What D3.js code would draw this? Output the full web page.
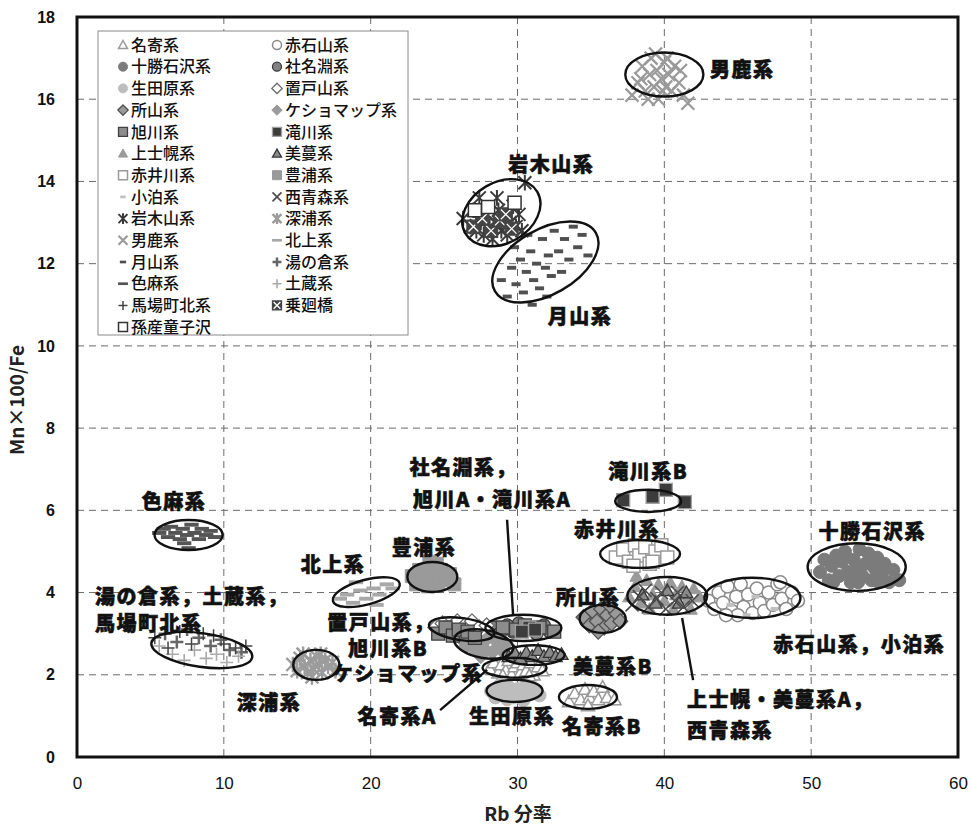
<!DOCTYPE html>
<html>
<head>
<meta charset="utf-8">
<script src="https://cdn.jsdelivr.net/npm/d3@7"></script>
<style>
  body { margin: 0; background: #fff; }
</style>
</head>
<body>
<div id="grafico"></div>
<script>
// ---- datos (Rb分率, Mn×100/Fe) ----
nombres = ['名寄系', '赤石山系', '十勝石沢系', '社名淵系', '生田原系', '置戸山系', '所山系',
  'ケショマップ系', '旭川系', '滝川系', '上士幌系', '美蔓系', '赤井川系', '豊浦系', '小泊系',
  '西青森系', '岩木山系', '深浦系', '男鹿系', '北上系', '月山系', '湯の倉系', '色麻系', '土蔵系',
  '馬場町北系', '乗廻橋', '孫産童子沢']

nayoro = [[33.5,1.35],[33.9,1.55],[34.3,1.4],[34.6,1.65],[34.9,1.45],[35.2,1.6],[35.5,1.4],[35.8,1.7],[36.1,1.45],[36.6,1.4],[34.8,1.25],
  [28.1,2.15],[28.4,2.3],[28.7,2.05],[28.9,2.25],[29.2,2.1],[29.4,2.35],[29.6,2.0],[29.8,2.2],[30.0,2.3],[30.2,2.05],[30.4,2.25],[30.6,2.1],[30.9,2.3],[31.1,2.0],[31.4,2.2],[31.7,2.1],[29.0,1.98],[30.8,1.98]]
akaishiyama = [[43.0,3.8],[43.4,3.6],[43.7,4.0],[44.0,3.75],[44.3,4.15],[44.6,3.55],[44.9,3.9],[45.2,4.2],[45.4,3.65],[45.7,3.95],[46.0,3.5],[46.3,4.1],[46.5,3.75],[46.8,3.55],[47.1,4.0],[47.4,3.7],[47.7,4.2],[48.0,3.85],[48.3,3.6],[48.7,4.0],[49.1,3.8],[45.0,3.45],[47.9,4.25],[44.2,3.45]]
tokachi = [[50.6,4.5],[50.9,4.8],[51.2,4.3],[51.4,4.65],[51.7,4.9],[51.9,4.4],[52.1,4.75],[52.3,5.0],[52.5,4.5],[52.7,4.25],[52.9,4.8],[53.1,4.6],[53.3,5.05],[53.5,4.4],[53.7,4.7],[53.9,4.95],[54.1,4.3],[54.3,4.6],[54.5,4.85],[54.8,4.45],[55.0,4.7],[55.3,4.25],[55.6,4.55],[56.0,4.3],[51.5,4.25],[52.8,4.35],[54.6,4.25],[53.2,4.25]]
shanabuchi = [[28.4,3.15],[28.8,3.0],[29.3,3.2],[29.7,3.05],[30.1,3.25],[31.3,3.0],[31.8,3.2],[32.2,3.05]]
ikutahara = [[28.2,1.6],[28.5,1.45],[28.8,1.75],[29.1,1.55],[29.4,1.7],[29.7,1.45],[30.0,1.65],[30.3,1.5],[30.6,1.75],[30.9,1.55],[31.2,1.65],[31.5,1.5],[29.3,1.4],[30.4,1.38]]
oketoyama = [[24.4,3.15],[24.9,3.25],[25.4,3.1],[25.9,3.3],[26.4,3.2],[26.9,3.3],[27.4,3.15],[27.9,3.2]]
tokoroyama = [[34.5,3.4],[34.9,3.2],[35.1,3.55],[35.4,3.3],[35.7,3.6],[35.9,3.15],[36.1,3.45],[36.4,3.25],[36.7,3.5],[37.0,3.3],[35.5,3.05],[36.3,3.68]]
keshomappu = [[26.1,2.9],[26.5,2.7],[26.8,2.95],[27.1,2.6],[27.4,2.85],[27.7,2.65],[28.0,2.9],[28.3,2.55],[28.6,2.8],[28.9,2.6],[29.2,2.75],[27.5,2.45]]
asahikawa = [[29.0,3.15],[29.9,3.1],[30.5,3.2],[31.5,3.15],[32.5,3.05],
  [24.6,3.0],[25.1,3.15],[25.6,2.95],[26.0,3.1],[26.6,3.05],[27.1,2.9]]
takikawa = [[37.2,6.25],[39.2,6.33],[40.1,6.5],[41.4,6.2],[30.8,3.15],[31.2,3.1],[30.3,3.05]]
kamishihoro = [[37.6,3.9],[38.0,4.15],[38.4,3.75],[38.8,4.3],[39.2,3.95],[39.6,4.2],[40.0,3.8],[40.4,4.25],[40.8,3.95],[41.2,4.15],[41.6,3.85],[42.0,4.1],[42.4,3.9],[39.0,3.6],[40.6,3.6],[41.8,3.6],[38.1,4.4]]
biman = [[38.5,3.95],[39.4,3.75],[40.2,4.05],[41.0,3.75],[41.5,4.0],
  [29.4,2.45],[29.8,2.55],[30.2,2.4],[30.6,2.55],[31.0,2.45],[31.4,2.6],[31.8,2.45],[32.2,2.55],[32.6,2.45],[33.0,2.5]]
akaigawa = [[36.7,4.85],[37.2,5.05],[37.6,4.75],[38.0,5.15],[38.3,4.9],[38.7,5.1],[39.0,4.7],[39.4,5.0],[39.8,5.15],[40.2,4.85],[37.9,4.65],[39.2,4.75]]
toyoura = [[22.8,4.4],[23.1,4.2],[23.3,4.55],[23.6,4.35],[23.9,4.15],[24.1,4.6],[24.3,4.4],[24.6,4.2],[24.8,4.55],[25.1,4.3],[25.4,4.45],[25.7,4.2],[24.0,4.75],[24.5,4.7]]
kodomari = [[44.5,3.7],[46.2,3.9],[47.5,3.6],[45.6,3.45]]
nishiaomori = [[37.8,3.7],[38.3,3.9],[38.9,3.65],[39.5,3.85],[40.1,3.6],[40.7,3.8],[41.3,3.65],[41.9,3.8],[39.8,4.0],[38.7,4.05],[40.9,4.0]]
iwakisan = [[26.3,13.1],[26.8,12.9],[27.0,13.3],[27.2,12.8],[27.5,13.0],[27.7,12.7],[27.9,13.2],[28.1,12.9],[28.3,12.6],[28.5,13.0],[28.7,13.3],[28.9,12.8],[29.1,13.1],[29.3,12.7],[29.5,13.0],[29.7,13.4],[29.9,12.9],[30.1,13.2],[30.3,12.8],[30.5,13.97],[27.4,13.6],[28.6,13.6]]
fukaura = [[14.7,2.25],[15.0,2.1],[15.2,2.4],[15.5,2.2],[15.7,2.05],[15.9,2.35],[16.1,2.15],[16.3,2.45],[16.5,2.25],[16.7,2.05],[16.9,2.35],[17.1,2.2],[17.4,2.3],[17.6,2.1],[15.4,2.5],[16.6,2.5],[16.0,1.95]]
oga = [[37.8,16.1],[38.2,16.4],[38.5,16.8],[38.7,16.2],[39.0,16.6],[39.1,17.0],[39.3,16.3],[39.5,16.7],[39.6,16.0],[39.8,16.5],[40.0,16.9],[40.1,16.3],[40.3,16.6],[40.5,16.2],[40.7,16.8],[41.0,16.4],[41.3,16.1],[41.6,15.9],[38.9,16.0],[39.4,17.1],[40.2,17.0],[38.4,16.5],[41.1,16.7],[39.9,16.2]]
kitakami = [[17.9,3.85],[18.4,3.95],[18.8,3.75],[19.3,4.05],[19.7,3.85],[20.2,4.1],[20.6,3.95],[21.1,4.2],[21.5,4.1],[19.0,4.25],[20.4,3.7]]
gassan = [[28.9,11.6],[29.3,11.2],[29.6,11.9],[29.9,11.5],[30.2,12.1],[30.4,11.3],[30.6,11.8],[30.9,12.3],[31.1,11.6],[31.3,12.0],[31.5,11.4],[31.7,12.6],[31.9,11.9],[32.1,12.2],[32.3,11.7],[32.5,12.8],[32.8,12.3],[33.0,11.8],[33.2,12.6],[33.5,12.1],[33.8,12.9],[34.1,12.4],[34.4,12.7],[34.8,12.2],[31.0,11.0],[32.0,11.2],[29.8,12.4],[30.7,12.7]]
yunokura = [[6.0,3.0],[6.8,2.8],[7.5,3.1],[8.3,2.9],[9.1,2.7],[9.8,2.85],[10.4,2.6],[11.2,2.55]]
shikama = [[5.6,5.45],[5.9,5.55],[6.2,5.35],[6.4,5.6],[6.7,5.45],[7.0,5.3],[7.2,5.55],[7.5,5.4],[7.8,5.65],[8.0,5.45],[8.3,5.3],[8.5,5.55],[8.8,5.4],[9.1,5.5],[9.4,5.35],[7.6,5.08],[7.3,5.2]]
dozou = [[6.5,2.5],[7.3,2.35],[8.0,2.6],[8.8,2.4],[9.5,2.5],[10.2,2.3],[5.6,2.7],[11.0,2.45]]
babacho = [[5.3,2.9],[6.2,2.65],[7.0,3.05],[7.8,2.75],[8.6,3.0],[9.3,2.95],[10.0,2.75],[10.8,2.65],[11.5,2.7]]
norimawashi = [[27.0,12.9],[28.2,12.8],[28.8,13.05],[29.6,12.85],[27.6,13.1],[29.2,13.2]]
magosan = [[27.1,13.3],[28.0,13.38],[29.8,13.48]]

datos = [nayoro, akaishiyama, tokachi, shanabuchi, ikutahara, oketoyama, tokoroyama,
  keshomappu, asahikawa, takikawa, kamishihoro, biman, akaigawa, toyoura, kodomari,
  nishiaomori, iwakisan, fukaura, oga, kitakami, gassan, yunokura, shikama, dozou,
  babacho, norimawashi, magosan]

// 楕円 [cx, cy, rx, ry, 角度]
elipses = [[40.0,16.6,2.66,0.535,0],[28.9,13.24,2.83,0.74,-30],[31.9,12.04,3.97,0.79,-30],
  [7.6,5.4,2.32,0.365,0],[8.5,2.6,3.47,0.41,8],[16.3,2.24,1.57,0.365,0],[19.7,4.01,2.35,0.30,-15],
  [24.2,4.38,1.7,0.365,0],[26.2,3.11,2.25,0.27,8],[27.7,2.75,2.04,0.34,10],[30.4,3.14,2.59,0.32,0],
  [31.1,2.48,2.11,0.24,0],[29.8,2.17,2.18,0.24,0],[29.8,1.61,1.91,0.27,0],[34.8,1.46,1.98,0.29,0],
  [35.8,3.36,1.57,0.34,0],[38.9,6.23,2.25,0.27,0],[38.35,4.94,2.72,0.34,0],[40.2,3.92,2.72,0.46,0],
  [46.0,3.87,3.27,0.49,0],[53.1,4.62,3.34,0.58,0]]

// 注記 [texto, x, y, anchor]
etiquetas = [['男鹿系',45.3,16.72,'middle'],['岩木山系',32.3,14.4,'middle'],['月山系',34.26,10.7,'middle'],
  ['色麻系',6.6,6.2,'middle'],['湯の倉系，土蔵系，',1.23,3.9,'start'],['馬場町北系',1.23,3.24,'start'],
  ['深浦系',13.08,1.31,'middle'],['北上系',17.44,4.67,'middle'],['豊浦系',23.64,5.09,'middle'],
  ['置戸山系，',20.7,3.26,'middle'],['旭川系B',21.19,2.63,'middle'],['ケショマップ系',22.55,2.02,'middle'],
  ['名寄系A',21.8,0.97,'middle'],['生田原系',29.63,0.97,'middle'],['名寄系B',35.76,0.73,'middle'],
  ['社名淵系，',26.3,7.03,'middle'],['旭川A・滝川系A',28.27,6.25,'middle'],['滝川系B',38.9,6.93,'middle'],
  ['赤井川系',36.78,5.52,'middle'],['所山系',34.8,3.87,'middle'],['美蔓系B',36.5,2.19,'middle'],
  ['十勝石沢系',54.16,5.47,'middle'],['赤石山系，小泊系',53.27,2.73,'middle'],
  ['上士幌・美蔓系A，',41.55,1.39,'start'],['西青森系',41.55,0.63,'start']]

lineas = [[29.29,5.77,29.7,3.45],[24.73,1.14,27.93,2.12],[41.21,3.38,41.96,1.87]]

xTicks = [0, 10, 20, 30, 40, 50, 60]
yTicks = [0, 2, 4, 6, 8, 10, 12, 14, 16, 18]

// ---- estilos de marcadores ----
estilos = [
  {f:'tri', fill:'#fff', st:'#9a9a9a', sw:1.5},
  {f:'circle', fill:'#fff', st:'#8a8a8a', sw:1.5},
  {f:'circle', fill:'#7b7b7b', st:'#7b7b7b', sw:1},
  {f:'circle', fill:'#828282', st:'#3a3a3a', sw:1.3},
  {f:'circle', fill:'#bdbdbd', st:'#bdbdbd', sw:1},
  {f:'diamond', fill:'#fff', st:'#6a6a6a', sw:1.3},
  {f:'diamond', fill:'#9a9a9a', st:'#505050', sw:1.3},
  {f:'diamond', fill:'#9a9a9a', st:'#9a9a9a', sw:1},
  {f:'square', fill:'#8c8c8c', st:'#404040', sw:1.3},
  {f:'square', fill:'#3c3c3c', st:'#a0a0a0', sw:1.3},
  {f:'tri', fill:'#9a9a9a', st:'#9a9a9a', sw:1},
  {f:'tri', fill:'#8a8a8a', st:'#333', sw:1.3},
  {f:'square', fill:'#fff', st:'#9a9a9a', sw:1.5},
  {f:'square', fill:'#9a9a9a', st:'#9a9a9a', sw:1},
  {f:'dash', fill:'#c0c0c0', w:0.6},
  {f:'x', st:'#4a4a4a', sw:1.6},
  {f:'ast', st:'#3a3a3a', sw:2},
  {f:'ast', st:'#9c9c9c', sw:2.4},
  {f:'x', st:'#9a9a9a', sw:2.2},
  {f:'dash', fill:'#a8a8a8', w:1.1},
  {f:'dash', fill:'#505050', w:0.7},
  {f:'plus', st:'#666', sw:2.5},
  {f:'dash', fill:'#555', w:1.1},
  {f:'plus', st:'#aaa', sw:1.6},
  {f:'plus', st:'#444', sw:1.5},
  {f:'xsq', fill:'#444', st:'#fff', sw:1.3},
  {f:'square', fill:'#fff', st:'#333', sw:1.5}
]

function forma(f, s, w) {
  h = s / 2
  switch (f) {
    case 'circle': return `M${h},0A${h},${h} 0 1,1 ${-h},0A${h},${h} 0 1,1 ${h},0Z`
    case 'square': return `M${-h},${-h}H${h}V${h}H${-h}Z`
    case 'xsq': return `M${-h},${-h}H${h}V${h}H${-h}Z`
    case 'diamond': return `M0,${-h*1.15}L${h*1.15},0L0,${h*1.15}L${-h*1.15},0Z`
    case 'tri': return `M0,${-h}L${h},${h*0.8}L${-h},${h*0.8}Z`
    case 'x': return `M${-h},${-h}L${h},${h}M${h},${-h}L${-h},${h}`
    case 'ast': return `M${-h},${-h}L${h},${h}M${h},${-h}L${-h},${h}M0,${-h*1.2}L0,${h*1.2}`
    case 'plus': return `M${-h},0L${h},0M0,${-h}L0,${h}`
    case 'dash': return `M${-h*w},${-h*0.3}H${h*w}V${h*0.3}H${-h*w}Z`
  }
}

function marcador(sel, e, s) {
  lineal = (e.f == 'x' || e.f == 'ast' || e.f == 'plus')
  sel.append('path')
    .attr('d', forma(e.f, s, e.w))
    .attr('fill', lineal ? 'none' : e.fill)
    .attr('stroke', lineal ? e.st : (e.f == 'dash' ? 'none' : (e.f == 'xsq' ? e.fill : e.st)))
    .attr('stroke-width', e.sw || 1)
  if (e.f == 'xsq') {
    sel.append('path')
      .attr('d', forma('x', s * 0.75))
      .attr('fill', 'none')
      .attr('stroke', e.st)
      .attr('stroke-width', e.sw)
  }
}

// ---- lienzo ----
ancho = 971
alto = 827
svg = d3.select('#grafico').append('svg')
  .attr('width', ancho)
  .attr('height', alto)
  .style('font-family', '"Liberation Sans", Arial, sans-serif')

x = d3.scaleLinear().domain([0, 60]).range([77, 958])
y = d3.scaleLinear().domain([0, 18]).range([757, 17])

// cuadrícula
gGrid = svg.append('g')
gGrid.selectAll('.vx').data(xTicks.slice(1, -1)).join('line')
  .attr('x1', d => x(d)).attr('x2', d => x(d))
  .attr('y1', y(18)).attr('y2', y(0))
gGrid.selectAll('.hy').data(yTicks.slice(1, -1)).join('line')
  .attr('x1', x(0)).attr('x2', x(60))
  .attr('y1', d => y(d)).attr('y2', d => y(d))
gGrid.selectAll('line')
  .attr('stroke', '#6a6a6a')
  .attr('stroke-width', 1)
  .attr('stroke-dasharray', '7,5')

// ejes
xAxis = svg.append('g')
  .attr('transform', `translate(0, ${y(0)})`)
  .call(d3.axisBottom(x).tickValues(xTicks).tickSize(0).tickPadding(20))
yAxis = svg.append('g')
  .attr('transform', `translate(${x(0)}, 0)`)
  .call(d3.axisLeft(y).tickValues(yTicks).tickSize(0).tickPadding(22))
xAxis.select('.domain').remove()
yAxis.select('.domain').remove()
xAxis.selectAll('text')
  .attr('font-family', '"Liberation Sans Narrow", "Liberation Sans", sans-serif')
  .attr('font-size', 17).attr('fill', '#111')
yAxis.selectAll('text')
  .attr('font-size', 16).attr('font-weight', 'bold').attr('fill', '#111')

svg.append('text')
  .attr('x', 518).attr('y', 821)
  .attr('text-anchor', 'middle')
  .attr('font-size', 19)
  .attr('font-weight', 'bold')
  .attr('fill', '#222')
  .style('font-family', '"Liberation Sans Narrow", "Noto Sans CJK JP", sans-serif')
  .text('Rb 分率')
svg.append('text')
  .attr('transform', 'translate(24, 400) rotate(-90)')
  .attr('text-anchor', 'middle')
  .attr('font-size', 19)
  .attr('font-weight', 'bold')
  .attr('fill', '#222')
  .style('font-family', '"Liberation Sans Narrow", "Noto Sans CJK JP", sans-serif')
  .text('Mn×100/Fe')

// puntos
gPuntos = svg.append('g')
datos.forEach((serie, i) => {
  serie.forEach(d => {
    p = gPuntos.append('g').attr('transform', `translate(${x(d[0])}, ${y(d[1])})`)
    marcador(p, estilos[i], 13)
  })
})

// elipses
gElip = svg.append('g')
gElip.selectAll('ellipse').data(elipses).join('ellipse')
  .attr('transform', d => `translate(${x(d[0])}, ${y(d[1])}) rotate(${d[4]})`)
  .attr('rx', d => x(d[0] + d[2]) - x(d[0]))
  .attr('ry', d => y(d[1] - d[3]) - y(d[1]))
  .attr('fill', 'none')
  .attr('stroke', '#111')
  .attr('stroke-width', 2.4)

gElip.selectAll('line').data(lineas).join('line')
  .attr('x1', d => x(d[0])).attr('y1', d => y(d[1]))
  .attr('x2', d => x(d[2])).attr('y2', d => y(d[3]))
  .attr('stroke', '#111')
  .attr('stroke-width', 2.4)

// marco
svg.append('rect')
  .attr('x', x(0)).attr('y', y(18))
  .attr('width', x(60) - x(0)).attr('height', y(0) - y(18))
  .attr('fill', 'none')
  .attr('stroke', '#111')
  .attr('stroke-width', 3)

// etiquetas
svg.append('g').selectAll('text').data(etiquetas).join('text')
  .attr('x', d => x(d[1])).attr('y', d => y(d[2]))
  .attr('dy', '0.36em')
  .attr('text-anchor', d => d[3])
  .attr('font-size', 20)
  .attr('font-weight', 900)
  .attr('letter-spacing', 1.5)
  .attr('fill', '#111')
  .attr('stroke', '#111')
  .attr('stroke-width', 0.6)
  .style('font-family', '"Noto Sans CJK JP", sans-serif')
  .text(d => d[0])

// leyenda
gLey = svg.append('g')
gLey.append('rect')
  .attr('x', 98).attr('y', 31)
  .attr('width', 310).attr('height', 304)
  .attr('fill', '#fff')
  .attr('stroke', '#8a8a8a')
  .attr('stroke-width', 1)
nombres.forEach((n, i) => {
  col = i % 2
  fila = Math.floor(i / 2)
  gy = 45 + fila * 21.7
  gx = col == 0 ? 123 : 277
  m = gLey.append('g').attr('transform', `translate(${gx}, ${gy})`)
  marcador(m, estilos[i], 9)
  gLey.append('text')
    .attr('x', gx + 8).attr('y', gy)
    .attr('dy', '0.36em')
    .attr('font-size', 16)
    .attr('font-weight', 500)
    .attr('fill', '#111')
    .style('font-family', '"Noto Sans CJK JP", sans-serif')
    .text(n)
})
</script>
</body>
</html>
